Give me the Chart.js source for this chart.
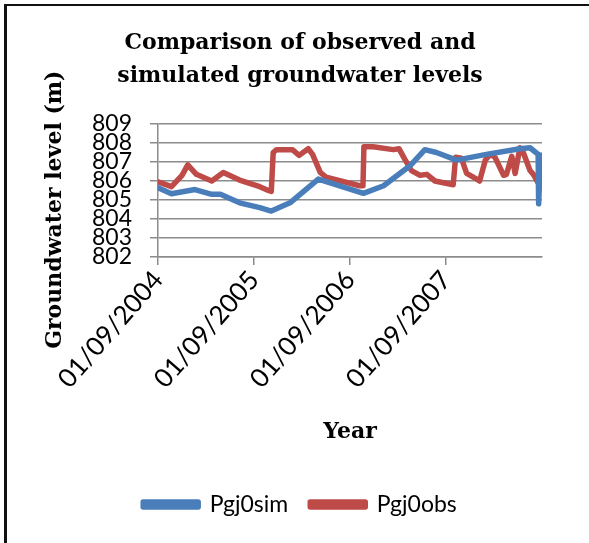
<!DOCTYPE html>
<html>
<head>
<meta charset="utf-8">
<script src="https://cdn.jsdelivr.net/npm/chart.js@4.4.1/dist/chart.umd.min.js"></script>
<style>
  html, body { margin: 0; padding: 0; background: #fff; }
  #frame {
    position: absolute; left: 4px; top: 4px; width: 585px; height: 539px;
    border-top: 2px solid #111; border-left: 3px solid #111; box-sizing: border-box;
  }
  #levels { position: absolute; left: 0; top: 0; }
</style>
</head>
<body>
<div id="frame"></div>
<canvas id="levels" width="589" height="543"></canvas>
<script>
// x values are years since 01/09/2004
const xLabels = ["01/09/2004", "01/09/2005", "01/09/2006", "01/09/2007"];

const simYears = [0, 0.14, 0.385, 0.56, 0.65, 0.85, 1.06, 1.18, 1.375, 1.67, 2.14, 2.35,
  2.625, 2.78, 2.90, 3.11, 3.42, 3.77, 3.875, 3.96, 3.965, 3.985, 4.0];
const simLevels = [805.65, 805.33, 805.55, 805.3, 805.3, 804.85, 804.6, 804.42, 804.85, 806.1, 805.35, 805.75,
  806.8, 807.65, 807.5, 807.1, 807.4, 807.7, 807.75, 807.4, 804.8, 807.35, 807.35];

const obsYears = [0, 0.14, 0.25, 0.31, 0.40, 0.56, 0.68, 0.85, 1.06, 1.15, 1.18, 1.20, 1.235, 1.40, 1.47,
  1.565, 1.61, 1.69, 1.75, 2.10, 2.135, 2.145, 2.24, 2.45, 2.51, 2.57, 2.64, 2.73, 2.80, 2.885,
  3.075, 3.10, 3.16, 3.215, 3.32, 3.35, 3.41, 3.46, 3.51, 3.60, 3.63, 3.685, 3.72, 3.77, 3.805,
  3.875, 3.91, 3.96, 4.0];
const obsLevels = [805.95, 805.7, 806.3, 806.85, 806.35, 806.0, 806.45, 806.05, 805.7, 805.5, 805.45, 807.5, 807.65, 807.65, 807.35,
  807.7, 807.4, 806.45, 806.2, 805.75, 805.75, 807.8, 807.8, 807.65, 807.7, 807.15, 806.55, 806.3, 806.35, 806.0,
  805.8, 807.25, 807.2, 806.4, 806.1, 806.0, 807.1, 807.4, 807.25, 806.3, 806.35, 807.3, 806.4, 807.75, 807.5,
  806.55, 806.35, 805.9, 806.3];

const BLUE = "#4a7ebb";
const RED = "#be4b48";
const GRID = "#8c8c8c";

function pairs(xs, ys) {
  return xs.map((x, i) => ({ x: x, y: ys[i] }));
}

const tickFont = { family: "Lato", size: 23 };
const serifBold = { family: "DejaVu Serif", weight: "bold", size: 22 };

new Chart(document.getElementById("levels"), {
  type: "line",
  data: {
    datasets: [
      {
        label: "Pgj0sim",
        data: pairs(simYears, simLevels),
        borderColor: BLUE,
        backgroundColor: BLUE,
        borderWidth: 5.5
      },
      {
        label: "Pgj0obs",
        data: pairs(obsYears, obsLevels),
        borderColor: RED,
        backgroundColor: RED,
        borderWidth: 5.5
      }
    ]
  },
  options: {
    responsive: false,
    animation: false,
    layout: { padding: { left: 58, right: 47, top: 0, bottom: 17 } },
    elements: {
      point: { radius: 0 },
      line: { tension: 0, borderJoinStyle: "round", borderCapStyle: "round" }
    },
    scales: {
      x: {
        type: "linear",
        min: 0,
        max: 4,
        afterBuildTicks: s => { s.ticks = xLabels.map((_, i) => ({ value: i })); },
        afterFit: s => { s.height = 214; },
        ticks: {
          callback: v => xLabels[v] || "",
          minRotation: 49,
          maxRotation: 49,
          autoSkip: false,
          padding: 0,
          color: "#000",
          font: { family: "Lato", size: 26 }
        },
        grid: { drawOnChartArea: false, tickLength: 8, color: GRID, lineWidth: 1.5 },
        border: { color: GRID, width: 1.5 },
        title: { display: true, text: "Year", color: "#000", font: serifBold, padding: { top: 0, bottom: 26 } }
      },
      y: {
        min: 802,
        max: 809,
        afterFit: s => { s.width = 100; },
        ticks: { stepSize: 1, autoSkip: false, padding: 18, color: "#000", font: tickFont },
        grid: { tickLength: 8, color: GRID, lineWidth: 1.5 },
        border: { color: GRID, width: 1.5 },
        title: {
          display: true, text: "Groundwater level (m)     ", color: "#000", font: serifBold,
          padding: { top: -16, bottom: 0 }
        }
      }
    },
    plugins: {
      title: {
        display: true,
        text: ["Comparison of observed and", "simulated groundwater levels"],
        color: "#000",
        font: { family: "DejaVu Serif", weight: "bold", size: 22, lineHeight: 1.5 },
        padding: { top: 27, bottom: 31 }
      },
      legend: {
        position: "bottom",
        labels: {
          color: "#000",
          font: tickFont,
          boxWidth: 55,
          boxHeight: 5,
          borderRadius: 2.5,
          padding: 22
        }
      },
      tooltip: { enabled: false }
    }
  }
});
</script>
</body>
</html>
